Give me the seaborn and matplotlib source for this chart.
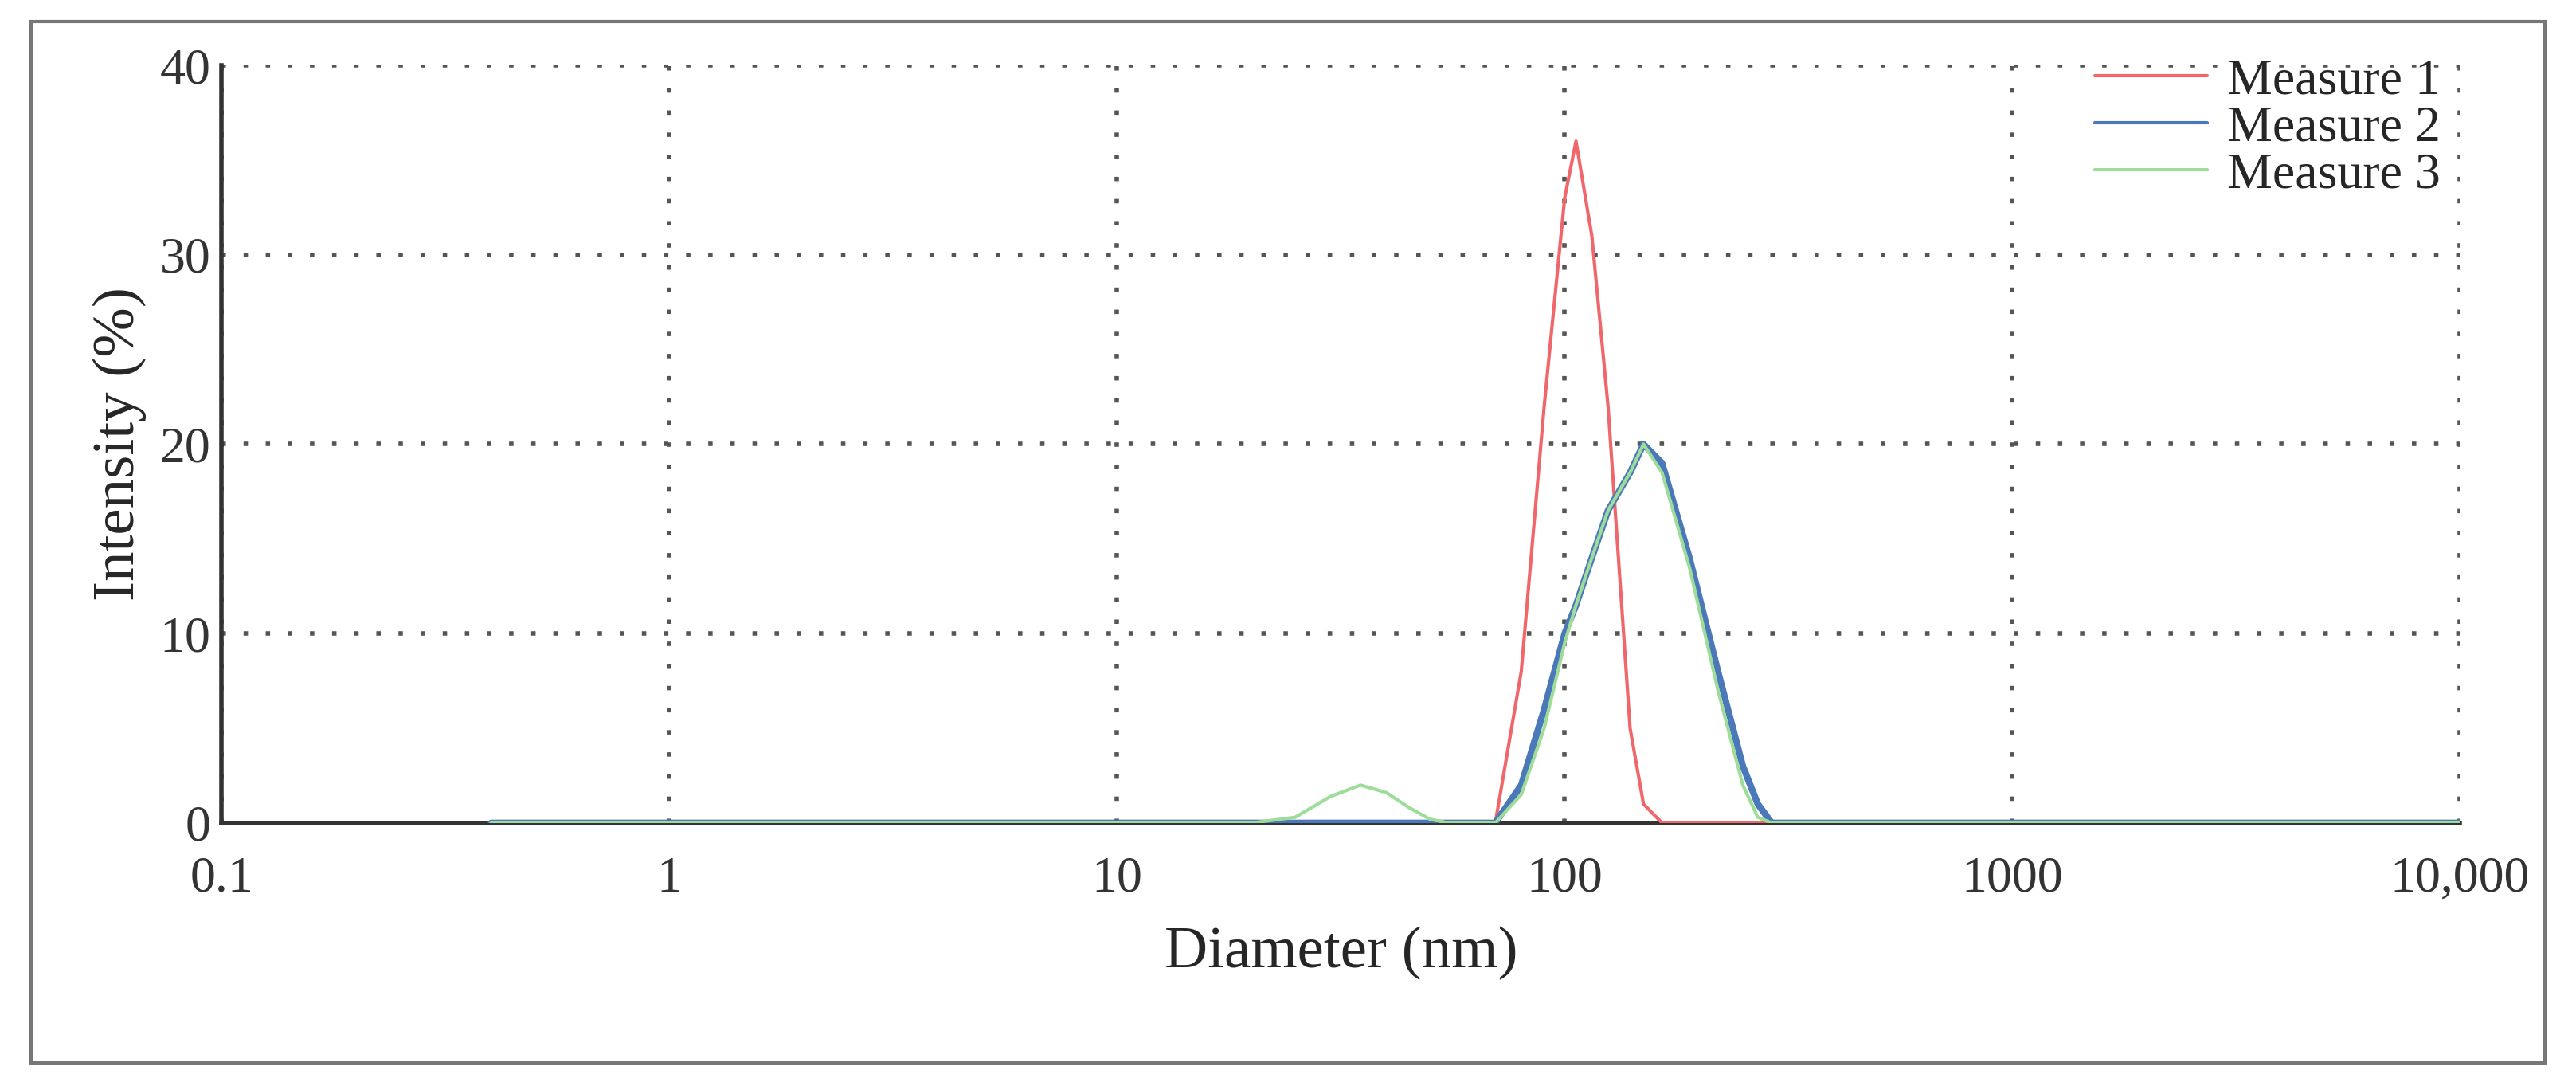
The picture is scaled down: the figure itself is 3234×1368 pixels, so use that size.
import matplotlib
matplotlib.use('Agg')
import matplotlib.pyplot as plt
import seaborn as sns
import pandas as pd
from matplotlib.patches import Rectangle
from matplotlib.ticker import FixedLocator, FixedFormatter, NullLocator

## DATA ##
diameter = [0.4, 1, 10, 20, 25, 30, 35, 40, 45, 50, 55, 60, 70, 80, 90, 100, 106, 115,
            125, 140, 150, 165, 190, 220, 250, 270, 290, 400, 1000, 10000]
measure_1 = [0, 0, 0, 0, 0, 0, 0, 0, 0, 0, 0, 0, 0, 8, 22, 33, 36, 31,
             22, 5, 1, 0, 0, 0, 0, 0, 0, 0, 0, 0]
measure_2 = [0, 0, 0, 0, 0, 0, 0, 0, 0, 0, 0, 0, 0, 2, 6, 10, 11.5, 14,
             16.5, 18.5, 20, 19, 14, 8, 3, 1, 0, 0, 0, 0]
measure_3 = [0, 0, 0, 0, 0.3, 1.4, 2, 1.6, 0.8, 0.2, 0, 0, 0, 1.5, 5, 9.5, 11.5, 14,
             16.5, 18.5, 20, 18.5, 13.5, 7, 2, 0.3, 0, 0, 0, 0]
series_names = ['Measure 1', 'Measure 2', 'Measure 3']
series_colors = ['#f0676b', '#4b78b8', '#9edc9a']
x_ticks = [0.1, 1, 10, 100, 1000, 10000]
x_labels = ['0.1', '1', '10', '100', '1000', '10,000']
y_ticks = [0, 10, 20, 30, 40]

df = pd.DataFrame({'diameter': diameter, 'Measure 1': measure_1,
                   'Measure 2': measure_2, 'Measure 3': measure_3})
df = df.melt(id_vars='diameter', var_name='series', value_name='intensity')

sns.set_style('white')
plt.rcParams['font.family'] = ['Liberation Serif', 'DejaVu Serif']

fig = plt.figure(figsize=(32.34, 13.68), dpi=100)
ax = fig.add_axes([0.086, 0.245, 0.869, 0.695])

# outer frame around the whole chart
fig.patches.append(Rectangle((0.012, 0.025), 0.976, 0.955, transform=fig.transFigure,
                             fill=False, edgecolor='#777777', linewidth=3))

# draw order: green underneath, then red, then blue on top
order = [2, 0, 1]
lw = {'Measure 1': 3, 'Measure 2': 6, 'Measure 3': 3}
for i in order:
    name = series_names[i]
    sns.lineplot(data=df[df['series'] == name], x='diameter', y='intensity',
                 color=series_colors[i], linewidth=lw[name], ax=ax, label=name,
                 zorder=3 + i)

ax.set_xscale('log')
ax.set_xlim(0.1, 10000)
ax.set_ylim(0, 40)
ax.xaxis.set_major_locator(FixedLocator(x_ticks))
ax.xaxis.set_major_formatter(FixedFormatter(x_labels))
ax.xaxis.set_minor_locator(NullLocator())
ax.set_yticks(y_ticks)
ax.set_yticks([5, 15, 25, 35], minor=True)
ax.tick_params(axis='both', labelsize=46, direction='in', length=14, width=3, colors='#333333')
ax.tick_params(axis='y', which='minor', direction='in', length=8, width=3)
ax.tick_params(axis='x', pad=30)
ax.tick_params(axis='y', pad=10)

ax.grid(True, which='major', linestyle=(0, (1, 4)), color='#555555', linewidth=4)
for side in ['top', 'right']:
    ax.spines[side].set_visible(False)
for side in ['left', 'bottom']:
    ax.spines[side].set_color('#333333')
    ax.spines[side].set_linewidth(4)

ax.set_xlabel('Diameter (nm)', fontsize=54, labelpad=22)
ax.set_ylabel('Intensity (%)', fontsize=54, labelpad=12)

handles, labels = ax.get_legend_handles_labels()
by_label = dict(zip(labels, handles))
leg = ax.legend([by_label[n] for n in series_names], series_names, loc='upper right',
                bbox_to_anchor=(1.005, 1.05), frameon=False, fontsize=46,
                handlelength=2.2, handletextpad=0.4, labelspacing=0.0, borderaxespad=0.2)
for line in leg.get_lines():
    line.set_linewidth(3)

fig.savefig('out.png', dpi=100)
